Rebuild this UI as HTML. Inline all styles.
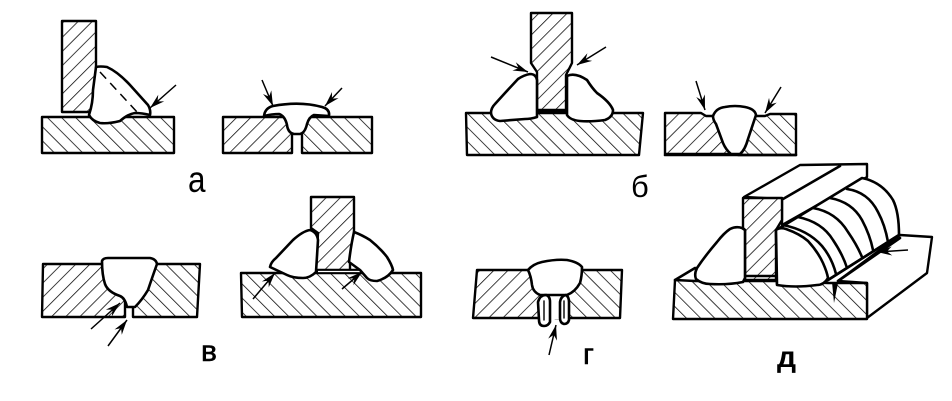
<!DOCTYPE html>
<html><head><meta charset="utf-8"><style>
html,body{margin:0;padding:0;background:#fff;width:952px;height:401px;overflow:hidden}
svg{display:block}
.o{stroke:#000;stroke-width:2.4;stroke-linejoin:round;stroke-linecap:round}
.w{fill:#fff;stroke:#000;stroke-width:2.6;stroke-linejoin:round}
.t{fill:none;stroke:#000;stroke-width:1.4;stroke-linecap:round}
.r{fill:none;stroke:#000;stroke-width:2.6;stroke-linecap:round}
.a{fill:none;stroke:#000;stroke-width:1.5;marker-end:url(#m)}
text{font-family:"Liberation Sans",sans-serif;fill:#000}
</style></head><body>
<svg width="952" height="401" viewBox="0 0 952 401" xmlns="http://www.w3.org/2000/svg">
<defs>
<pattern id="f" width="10" height="10" patternUnits="userSpaceOnUse" patternTransform="rotate(45)"><rect width="10" height="10" fill="#fff"/><line x1="0" y1="0" x2="0" y2="10" stroke="#000" stroke-width="1.5"/></pattern>
<pattern id="b" width="10" height="10" patternUnits="userSpaceOnUse" patternTransform="rotate(-45)"><rect width="10" height="10" fill="#fff"/><line x1="0" y1="0" x2="0" y2="10" stroke="#000" stroke-width="1.5"/></pattern>
<marker id="m" viewBox="-16 -5 17 10" refX="0" refY="0" markerWidth="17" markerHeight="10" markerUnits="userSpaceOnUse" orient="auto"><path d="M0 0L-15 -4.5L-10 0L-15 4.5Z" fill="#000"/></marker>
</defs>

<!-- a left -->
<path class="o" fill="url(#f)" d="M62 21H96V112H62Z"/>
<path class="o" fill="url(#b)" d="M42 117H174V153H42Z"/>
<path class="w" d="M96 67Q100 66 107 67Q118 72 130 85L148 105Q151 110 150 115Q142 113 135 113Q128 114 120 121Q108 124 100 123Q92 121 89 115Q93 103 93 90Z"/>
<path d="M100 72L137 112" fill="none" stroke="#000" stroke-width="1.5" stroke-dasharray="9 6"/>
<path class="a" d="M176 85L150 108"/>

<!-- a right -->
<path class="o" fill="url(#f)" d="M223 117H292V153H223Z"/>
<path class="o" fill="url(#b)" d="M302 117H372V153H302Z"/>
<path class="w" d="M264 116Q265 108 273 106Q300 101 322 107Q330 109 329 116L314 115Q309 117 307 124Q305 133 300 134H294Q288 133 287 125Q285 116 279 114Q272 114 264 116Z"/>
<path class="a" d="M262 80L273 106"/>
<path class="a" d="M342 88L325 106"/>

<!-- б left -->
<path class="o" fill="url(#f)" d="M531 13H572V63L566 75V111H537V72L531 63Z"/>
<path class="o" fill="url(#b)" d="M466 113H643L639 155H467Z"/>
<path class="r" d="M537 110H566"/>
<path class="w" d="M530 74Q536 74 537 80V117Q531 119 525 119L500 121Q492 120 491 113Q491 108 495 104L505 93L518 79Q524 75 530 74Z"/>
<path class="w" d="M567 76Q575 72 587 80Q592 88 597 93Q610 102 613 110Q613 117 605 120Q590 122 580 121Q570 120 567 115Z"/>
<path class="a" d="M491 57L528 72"/>
<path class="a" d="M606 47L577 65"/>

<!-- б right -->
<path class="o" fill="url(#f)" d="M665 113H701L706 116H713L730 154H665Z"/>
<path class="o" fill="url(#b)" d="M755 116H765L770 114H796V155H738Z"/>
<path class="w" d="M713 116Q716 108 725 107Q735 105 745 107Q755 109 756 115L748 139Q745 150 740 154H731Q726 150 723 143L716 124Q713 120 713 116Z"/>
<path class="a" d="M696 81L705 110"/>
<path class="a" d="M781 87L765 113"/>
<path class="r" d="M665 155H796"/>

<!-- в left -->
<path class="o" fill="url(#f)" d="M43 264H125V317H42Z"/>
<path class="o" fill="url(#b)" d="M133 264H200L197 317H133Z"/>
<path class="w" d="M102 261Q103 258 108 258L130 258L150 258Q156 259 157 264Q152 278 148 290Q142 300 135 307H127Q125 298 120 296Q108 292 105 284Q102 275 102 261Z"/>
<path class="a" d="M91 329L120 303"/>
<path class="a" d="M108 346L127 320"/>

<!-- в right -->
<path class="o" fill="url(#f)" d="M311 197H354V232L350 262V272H316L318 233L311 228Z"/>
<path class="o" fill="url(#b)" d="M241 273H421V317H242Z"/>
<path class="r" d="M316 270H362"/>
<path d="M318 271.5H360" stroke="#fff" stroke-width="1.2"/>
<path class="w" d="M310 230Q317 232 318 240L316 272Q310 278 303 278Q293 278 287 275L270 267Q271 262 276 258L293 240Q303 231 310 230Z"/>
<path class="w" d="M354 232Q362 235 370 240Q380 248 387 257Q392 265 393 270Q388 278 377 281Q370 281 367 278L360 270L349 262Q351 245 354 232Z"/>
<path class="a" d="M253 299L275 273"/>
<path class="a" d="M342 289L362 272"/>

<!-- г -->
<path class="o" fill="url(#f)" d="M477 270H545V318H473Z"/>
<path class="o" fill="url(#b)" d="M555 270H622L620 318H555Z"/>
<path d="M550 290H560V319H550Z" fill="#fff"/>
<path class="w" d="M528 270Q533 264 542 262Q556 259 567 260Q578 262 582 267Q582 276 580 283Q575 292 567 295H540Q533 292 532 285Q531 276 528 270Z"/>
<path class="w" d="M538 302Q540 295 546 295Q550 296 550 302V322Q548 326 544 326Q539 326 539 320Z"/>
<path class="w" d="M560 302Q561 296 566 295Q569 297 569 302V320Q568 324 564 324Q560 323 560 318Z"/>
<path class="t" d="M544 301V320M564 301V318"/>
<path class="a" d="M549 355L556 325"/>

<!-- д -->
<path class="o" fill="#fff" d="M744 197L800 165L867 164V177L782 225V199Z"/>
<path class="r" d="M840 166L783 199"/>
<path class="o" fill="url(#f)" d="M743 198H782V220L776 230V280H745V230L743 228Z"/>
<path class="r" d="M745 276H776"/>
<path class="o" fill="#fff" d="M900 235L932 237L927 273L867 318V283L838 281Z"/>
<path class="o" fill="url(#b)" d="M675 280L695 281L745 281H776L828 283L867 283V319H673Z"/>
<path class="r" d="M675 280L695 268"/>
<path class="w" d="M742 228Q736 226 730 229Q724 233 717 242Q705 256 697 268Q694 274 696 279Q702 284 710 284Q728 285 743 282L745 278V230Z"/>
<path class="w" d="M862 178Q882 182 893 200Q899 212 899 235L828 280Q820 286 800 286Q785 287 777 284L776 230Q780 228 783 226L862 178Z"/>
<path class="w" d="M776 230Q780 227 786 229Q800 234 808 241Q818 252 823 263Q827 272 828 278Q824 285 817 285Q795 288 777 285Z"/>
<path class="r" d="M798 217Q822 222 833 240Q843 255 847 268"/>
<path class="r" d="M783 225Q808 230 822 246Q832 258 836 274"/>
<path class="r" d="M813 208Q836 212 848 232Q857 245 862 257"/>
<path class="r" d="M830 198Q852 202 862 220Q870 235 873 250"/>
<path class="r" d="M847 189Q868 192 878 212Q885 225 888 242"/>
<path class="r" d="M828 280L899 235"/>
<path class="r" d="M838 281L900 238"/>
<path d="M832 282L834 303L838 283Z" fill="#000"/>
<path class="a" d="M908 250L877 252"/>

<text transform="translate(188,192) scale(.85,1)" font-size="37">а</text>
<text x="631" y="197" font-size="31">б</text>
<text x="201" y="361" font-size="30" stroke="#000" stroke-width=".6">в</text>
<text x="583" y="364" font-size="30" stroke="#000" stroke-width=".6">г</text>
<text x="777" y="367" font-size="30" font-weight="bold">д</text>
</svg>
</body></html>
